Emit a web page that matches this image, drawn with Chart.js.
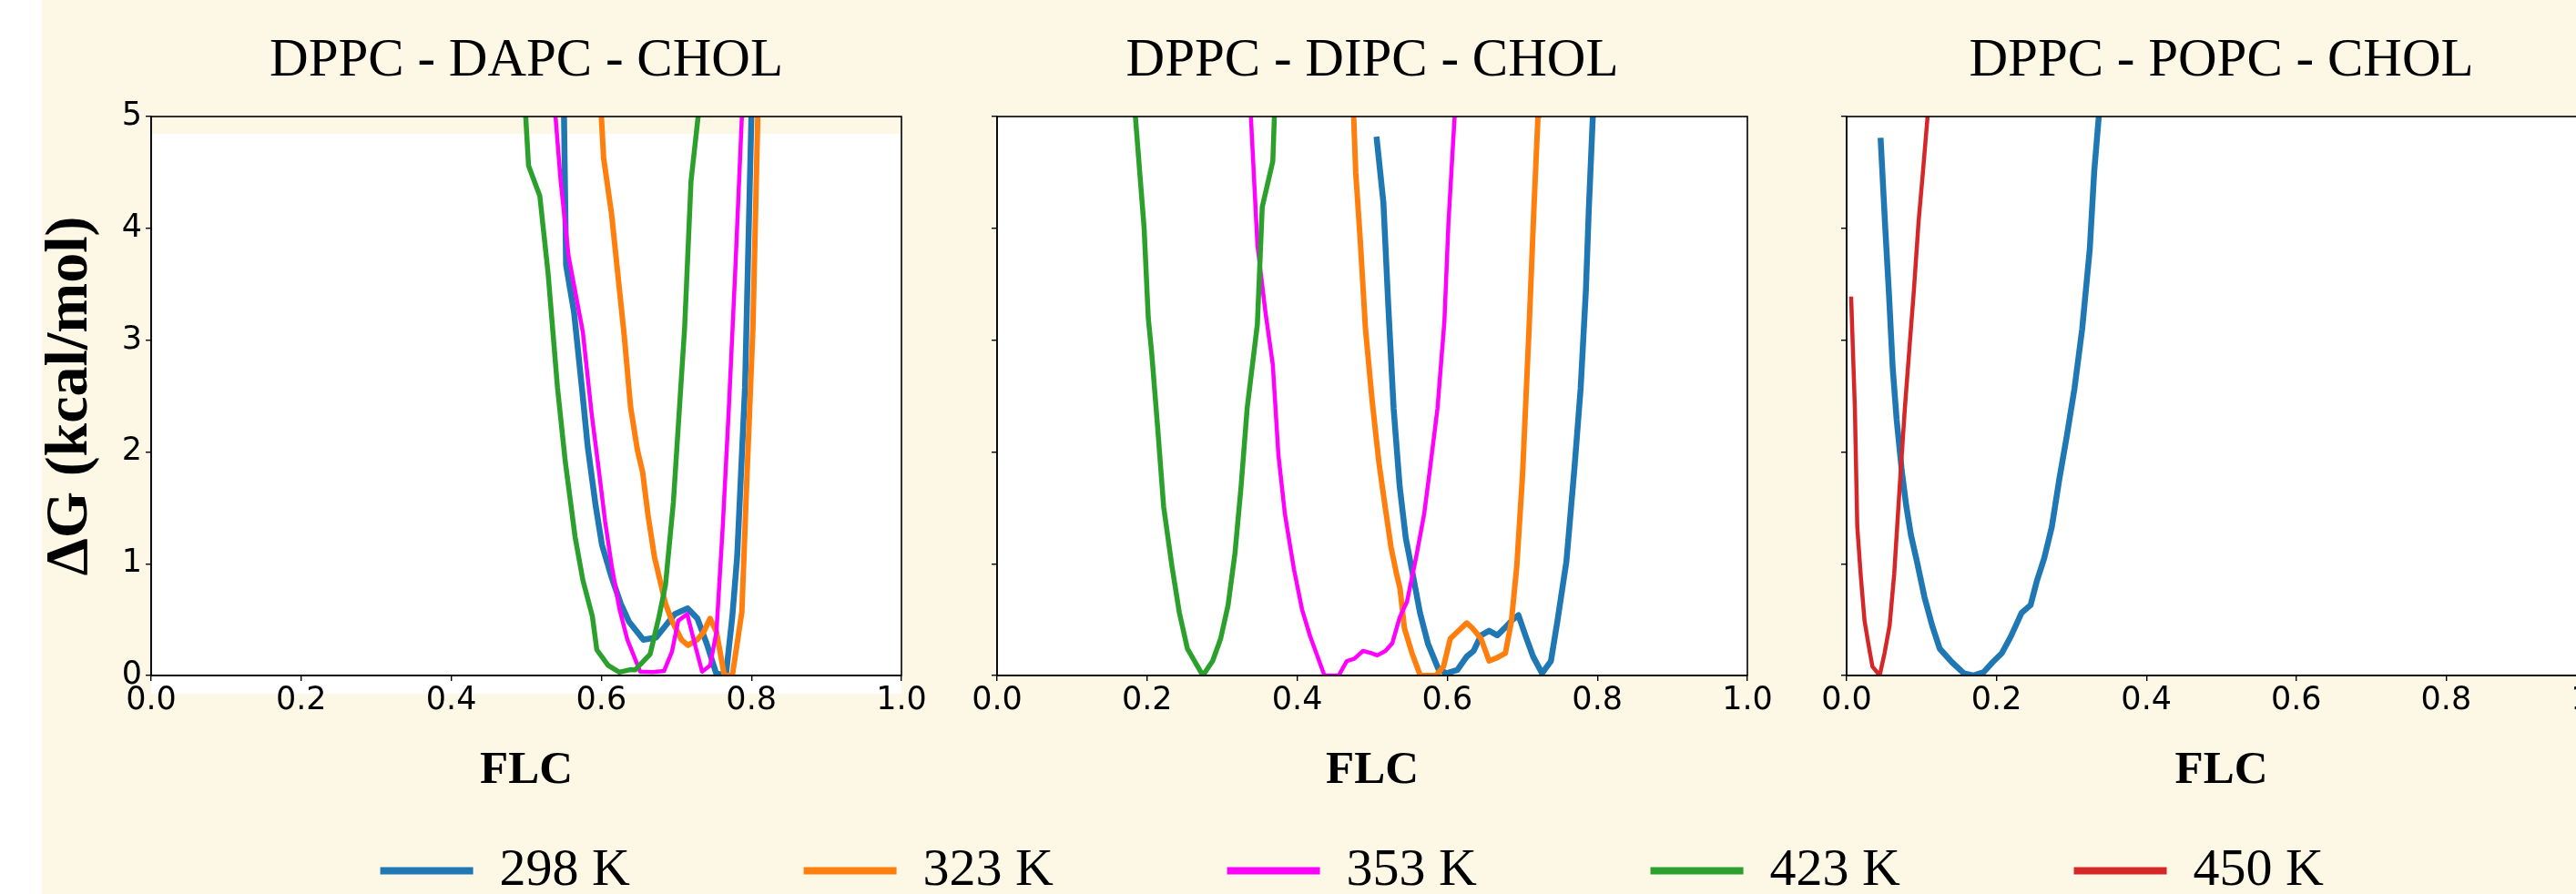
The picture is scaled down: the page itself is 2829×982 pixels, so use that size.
<!DOCTYPE html>
<html>
<head>
<meta charset="utf-8">
<script src="https://cdn.jsdelivr.net/npm/chart.js@4.4.1/dist/chart.umd.min.js"></script>
<style>
  html, body { margin: 0; padding: 0; width: 2829px; height: 982px; overflow: hidden; background: #fff; }
  #paper { position: absolute; left: 46px; top: 0; width: 2783px; height: 982px; background: #fdf8e6; }
  canvas { position: absolute; }
</style>
</head>
<body>
<div id="paper"></div>
<canvas id="legendChart" width="2602" height="300" style="left:227px;top:737px"></canvas>
<canvas id="dapcChart" width="1030" height="882" style="left:0;top:0"></canvas>
<canvas id="dipcChart" width="919" height="882" style="left:1040px;top:0"></canvas>
<canvas id="popcChart" width="911" height="882" style="left:1980px;top:0"></canvas>
<script>
// free energy profiles, [FLC, dG in kcal/mol]
const dapc298 = [[0.549, 5.6], [0.553, 3.67], [0.5636, 3.25], [0.5746, 2.54], [0.5818, 2.05], [0.5924, 1.52],
  [0.6008, 1.17], [0.6136, 0.88], [0.626, 0.64], [0.637, 0.48], [0.656, 0.32], [0.673, 0.34], [0.698, 0.55],
  [0.715, 0.60], [0.728, 0.51], [0.7407, 0.28], [0.753, 0.02], [0.766, 0.0], [0.7746, 0.53], [0.781, 1.06],
  [0.7915, 2.58], [0.800, 5.0], [0.802, 5.6]];
const dapc323 = [[0.596, 5.5], [0.603, 4.63], [0.6136, 4.13], [0.6229, 3.53], [0.6305, 3.04], [0.639, 2.40],
  [0.648, 2.02], [0.655, 1.82], [0.6623, 1.43], [0.6708, 1.06], [0.6856, 0.64], [0.694, 0.49], [0.7068, 0.32],
  [0.7153, 0.27], [0.728, 0.32], [0.7364, 0.39], [0.7449, 0.51], [0.7534, 0.39], [0.764, 0.0], [0.7746, 0.0],
  [0.7873, 0.57], [0.7936, 1.70], [0.802, 3.11], [0.8085, 5.0], [0.810, 5.5]];
const dapc353 = [[0.533, 5.5], [0.5458, 4.42], [0.5564, 3.75], [0.5754, 3.07], [0.5873, 2.33], [0.5966, 1.84],
  [0.605, 1.38], [0.6136, 0.99], [0.624, 0.60], [0.6347, 0.32], [0.6517, 0.035], [0.6686, 0.03], [0.6835, 0.04],
  [0.694, 0.21], [0.7025, 0.49], [0.7144, 0.55], [0.7258, 0.25], [0.7343, 0.035], [0.745, 0.09], [0.7534, 0.39],
  [0.7619, 1.34], [0.770, 2.40], [0.7788, 3.67], [0.7873, 5.0], [0.789, 5.5]];
const dapc423 = [[0.494, 5.6], [0.503, 4.56], [0.518, 4.29], [0.529, 3.60], [0.5415, 2.58], [0.552, 1.91],
  [0.565, 1.24], [0.5755, 0.85], [0.588, 0.53], [0.594, 0.23], [0.609, 0.09], [0.624, 0.03], [0.637, 0.05],
  [0.645, 0.05], [0.665, 0.19], [0.677, 0.53], [0.6855, 0.81], [0.696, 1.55], [0.711, 3.11], [0.7195, 4.42],
  [0.729, 5.0], [0.731, 5.5]];

const dipc298 = [[0.5057, 4.82], [0.5149, 4.23], [0.5214, 3.31], [0.5285, 2.39], [0.5366, 1.69], [0.5447, 1.23],
  [0.5539, 0.91], [0.5637, 0.56], [0.5745, 0.28], [0.5881, 0.06], [0.5989, 0.02], [0.6135, 0.05], [0.626, 0.17],
  [0.6352, 0.22], [0.645, 0.36], [0.6558, 0.40], [0.6667, 0.36], [0.6775, 0.43], [0.6856, 0.49], [0.6949, 0.54],
  [0.7046, 0.35], [0.7144, 0.17], [0.7263, 0.02], [0.7382, 0.13], [0.7469, 0.49], [0.7588, 1.02], [0.7696, 1.86],
  [0.7778, 2.57], [0.7848, 3.45], [0.7886, 4.16], [0.794, 5.0], [0.796, 5.5]];
const dipc323 = [[0.4725, 5.5], [0.478, 4.5], [0.484, 3.9], [0.491, 3.1], [0.500, 2.45], [0.509, 1.9],
  [0.517, 1.52], [0.525, 1.15], [0.532, 0.92], [0.537, 0.78], [0.543, 0.42], [0.553, 0.2], [0.564, 0.0],
  [0.585, 0.0], [0.595, 0.08], [0.604, 0.33], [0.615, 0.40], [0.626, 0.47], [0.634, 0.42], [0.645, 0.33],
  [0.6558, 0.13], [0.6667, 0.16], [0.6775, 0.20], [0.6856, 0.49], [0.6927, 0.98], [0.7003, 1.79], [0.709, 3.10],
  [0.7154, 4.16], [0.7209, 5.0], [0.722, 5.5]];
const dipc353 = [[0.3345, 5.5], [0.347, 3.85], [0.3577, 3.25], [0.3675, 2.78], [0.375, 1.97], [0.3837, 1.44],
  [0.3957, 0.95], [0.4065, 0.59], [0.4173, 0.35], [0.4363, 0.0], [0.4553, 0.0], [0.4661, 0.13], [0.476, 0.15],
  [0.4878, 0.22], [0.4986, 0.20], [0.5068, 0.18], [0.5176, 0.22], [0.5268, 0.29], [0.5366, 0.52], [0.5463, 0.66],
  [0.5583, 1.05], [0.5691, 1.44], [0.5772, 1.86], [0.587, 2.39], [0.5962, 3.17], [0.6016, 4.05], [0.6098, 5.0],
  [0.611, 5.5]];
const dipc423 = [[0.1785, 5.5], [0.196, 4.0], [0.2015, 3.2], [0.206, 2.89], [0.214, 2.22], [0.222, 1.51],
  [0.233, 0.98], [0.243, 0.56], [0.2537, 0.24], [0.2656, 0.10], [0.2743, 0.0], [0.2873, 0.13], [0.298, 0.33],
  [0.3079, 0.63], [0.317, 1.09], [0.3252, 1.69], [0.3333, 2.39], [0.3469, 3.14], [0.3534, 4.19], [0.3675, 4.60],
  [0.3696, 5.0], [0.371, 5.5]];

const popc298 = [[0.0453, 4.81], [0.0514, 4.02], [0.0562, 3.45], [0.0615, 2.75], [0.0667, 2.29], [0.0736, 1.83],
  [0.0797, 1.51], [0.0857, 1.26], [0.0938, 1.02], [0.1039, 0.70], [0.114, 0.45], [0.1242, 0.24], [0.1403, 0.12],
  [0.1565, 0.02], [0.1687, 0.0], [0.1828, 0.03], [0.195, 0.12], [0.2071, 0.20], [0.2192, 0.35], [0.2334, 0.56],
  [0.2455, 0.63], [0.2536, 0.84], [0.2637, 1.05], [0.2738, 1.33], [0.2839, 1.76], [0.294, 2.15], [0.3041, 2.57],
  [0.3143, 3.10], [0.3244, 3.81], [0.3304, 4.51], [0.3365, 5.0], [0.338, 5.4]];
const popc450 = [[0.006, 3.39], [0.011, 2.39], [0.0142, 1.33], [0.019, 0.88], [0.0239, 0.49], [0.0291, 0.28],
  [0.0344, 0.08], [0.0441, 0.0], [0.0506, 0.20], [0.0574, 0.45], [0.0635, 0.91], [0.0708, 1.69], [0.0777, 2.39],
  [0.0837, 2.92], [0.0898, 3.45], [0.0959, 4.05], [0.1019, 4.51], [0.108, 5.0], [0.110, 5.5]];

const temps = ['298 K', '323 K', '353 K', '423 K', '450 K'];
const titles = ['DPPC - DAPC - CHOL', 'DPPC - DIPC - CHOL', 'DPPC - POPC - CHOL'];
const xTicks = [0, 0.2, 0.4, 0.6, 0.8, 1.0];

const tempColor = { '298 K': '#1f77b4', '323 K': '#ff7f0e', '353 K': '#ff00ff', '423 K': '#2ca02c', '450 K': '#d62728' };
const tempWidth = { '298 K': 6.5, '323 K': 6, '353 K': 4.5, '423 K': 5.5, '450 K': 4.5 };

Chart.defaults.font.family = "'DejaVu Sans', sans-serif";
Chart.defaults.color = '#000';

// white plot box + full spine frame like matplotlib
const plotFrame = {
  id: 'plotFrame',
  beforeDraw(chart, args, opts) {
    const a = chart.chartArea;
    const ctx = chart.ctx;
    ctx.save();
    ctx.fillStyle = '#ffffff';
    ctx.fillRect(a.left, a.top + opts.shift, a.right - a.left, a.bottom - a.top + opts.drop - opts.shift);
    ctx.restore();
  },
  afterDatasetsDraw(chart) {
    const a = chart.chartArea;
    const ctx = chart.ctx;
    ctx.save();
    ctx.strokeStyle = '#000';
    ctx.lineWidth = 1.6;
    ctx.strokeRect(a.left, a.top, a.right - a.left, a.bottom - a.top);
    ctx.restore();
  }
};

function makeDatasets(series) {
  return series.map(([temp, pts], i) => ({
    label: temp,
    data: pts.map(p => ({ x: p[0], y: p[1] })),
    borderColor: tempColor[temp],
    backgroundColor: tempColor[temp],
    borderWidth: tempWidth[temp],
    pointRadius: 0,
    tension: 0,
    borderJoinStyle: 'round',
    clip: 0,
    order: 10 - i
  }));
}

function panelOptions(title, yWidth, firstPanel) {
  const axisLine = { color: '#000', width: 1.6 };
  const tickMarks = { drawOnChartArea: false, drawTicks: true, tickLength: 6, color: '#000', lineWidth: 1.4 };
  return {
    responsive: false,
    animation: false,
    layout: { padding: { left: 0, right: 40, top: 0, bottom: 0 } },
    plugins: {
      legend: { display: false },
      tooltip: { enabled: false },
      title: {
        display: true, text: title, fullSize: false, color: '#000',
        font: { family: "'Liberation Serif', serif", size: 59, weight: 'normal' },
        padding: { top: 31.6, bottom: 25.6 }
      },
      plotFrame: firstPanel ? { shift: 19, drop: 20 } : { shift: 0, drop: 0 }
    },
    scales: {
      x: {
        type: 'linear', min: 0, max: 1,
        afterFit: s => { s.height = 140; },
        afterBuildTicks: s => { s.ticks = xTicks.map(v => ({ value: v })); },
        ticks: { callback: v => v.toFixed(1), font: { size: 35 }, color: '#000', padding: 1, maxRotation: 0 },
        grid: tickMarks,
        border: axisLine,
        title: {
          display: true, text: 'FLC', color: '#000',
          font: { family: "'Liberation Serif', serif", size: 51, weight: 'bold' },
          padding: { top: 0, bottom: 4.4 }
        }
      },
      y: {
        type: 'linear', min: 0, max: 5,
        afterFit: s => { s.width = yWidth; },
        ticks: { stepSize: 1, display: firstPanel, font: { size: 35 }, color: '#000', padding: 4 },
        grid: tickMarks,
        border: axisLine,
        title: {
          display: firstPanel, text: 'ΔG (kcal/mol)', color: '#000',
          font: { family: "'Liberation Serif', serif", size: 66, weight: 'bold' },
          padding: { top: 38, bottom: 0 }
        }
      }
    }
  };
}

new Chart(document.getElementById('dapcChart'), {
  type: 'line',
  data: { datasets: makeDatasets([['298 K', dapc298], ['323 K', dapc323], ['353 K', dapc353], ['423 K', dapc423]]) },
  options: panelOptions(titles[0], 166, true),
  plugins: [plotFrame]
});

new Chart(document.getElementById('dipcChart'), {
  type: 'line',
  data: { datasets: makeDatasets([['298 K', dipc298], ['323 K', dipc323], ['353 K', dipc353], ['423 K', dipc423]]) },
  options: panelOptions(titles[1], 55, false),
  plugins: [plotFrame]
});

new Chart(document.getElementById('popcChart'), {
  type: 'line',
  data: { datasets: makeDatasets([['298 K', popc298], ['450 K', popc450]]) },
  options: panelOptions(titles[2], 48, false),
  plugins: [plotFrame]
});

// shared legend below the three panels
new Chart(document.getElementById('legendChart'), {
  type: 'line',
  data: {
    datasets: temps.map(t => ({ label: t, data: [], backgroundColor: tempColor[t], borderColor: tempColor[t], borderWidth: 0 }))
  },
  options: {
    responsive: false,
    animation: false,
    layout: { padding: 0 },
    scales: { x: { display: false }, y: { display: false } },
    plugins: {
      tooltip: { enabled: false },
      legend: {
        position: 'top', align: 'start', maxHeight: 300,
        labels: {
          boxWidth: 102, boxHeight: 8, padding: 190.6, color: '#000',
          font: { family: "'Liberation Serif', serif", size: 58 }
        }
      }
    }
  }
});
</script>
</body>
</html>
